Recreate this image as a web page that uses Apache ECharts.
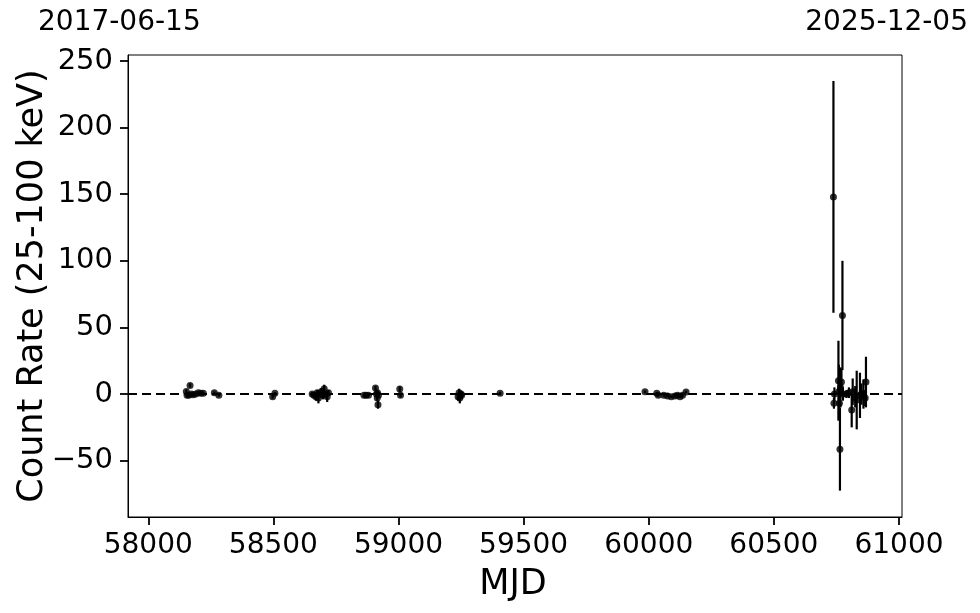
<!DOCTYPE html>
<html>
<head>
<meta charset="utf-8">
<script src="https://cdn.jsdelivr.net/npm/echarts@6/dist/echarts.min.js"></script>
<style>html,body{margin:0;padding:0;background:#fff}#c{width:980px;height:613px}</style>
</head>
<body>
<div id="c"></div>
<script>
const mjd = [58152,58155,58162,58167,58172,58180,58190,58200,58210,58220,58264,58282,
  58497,58506,
  58655,58662,58670,58675,58680,58686,58692,58698,58703,58708,58715,58720,
  58862,58870,58880,
  58908,58912,58915,58918,58916,58920,
  59005,59008,
  59238,59242,59245,59250,59252,
  59406,
  59985,60032,60038,60060,60075,60090,60105,60115,60125,60135,60149,
  60738,60742,60740,60758,60760,60762,60764,60766,60770,60774,60776,60790,60800,60811,60815,60825,60831,60844,60850,60858,60865,60868];
const rate = [2,-1,-1,6.5,0,-0.5,0,1,0.5,0.5,1,-1,
  -2,0.5,
  0,-1,-2,1,-3,0,2,-1,4,0,-2,1,
  -1,-1,-1,
  4.5,0,-3,-8,1,-1,
  3.7,-1,
  -2,1,-3,0,-1,
  0.5,
  1.7,0.5,-1,-1,-1.5,-2,-1.5,-1,-2,-1,1.5,
  148,0,-7,10,2,-7,-41.5,5,9,59,0,0,1,-12,1.7,-2,-4.5,-1,0,0,-3,9];
const err = [1.5,1.5,1,1.5,1,1,1,1,1,1,1,1,
  1.5,1,
  1.5,2,3,2,4,2,2.5,3,3,2,4,2,
  1,1,1,
  1.5,2,2,3,1.5,1.5,
  2,1.5,
  3,3,4,2,3,
  1,
  1,1,1,1,1,1,1,1,1,1,1,
  87,5,4,30,20,5,31,15,10,41,5,3,4,13,10,8,22,17,8,11,6,19];
const xTicks = [58000,58500,59000,59500,60000,60500,61000];
const yTicks = [-50,0,50,100,150,200,250];
const xRange = [57919,61012];
const yRange = [-92.3,254.5];
const dateLabels = ['2017-06-15','2025-12-05'];

const pts = mjd.map((m,i)=>[m,rate[i]]);
const bars = mjd.map((m,i)=>[m,rate[i]-err[i],rate[i]+err[i]]);
const FONT = 'DejaVu Sans';
const chart = echarts.init(document.getElementById('c'));
chart.setOption({
  animation:false,
  backgroundColor:'#fff',
  grid:{left:128,right:78,top:55,bottom:96,show:true,borderColor:'#000',borderWidth:1},
  xAxis:{type:'value',min:xRange[0],max:xRange[1],
    axisLine:{show:true,onZero:false,lineStyle:{color:'#000',width:1}},
    axisTick:{show:true,length:8,customValues:xTicks,lineStyle:{color:'#000',width:1.8}},
    axisLabel:{customValues:xTicks,color:'#000',fontFamily:FONT,fontSize:28,margin:15,
      formatter:v=>String(v)},
    splitLine:{show:false}},
  yAxis:{type:'value',min:yRange[0],max:yRange[1],
    axisLine:{show:true,onZero:false,lineStyle:{color:'#000',width:1}},
    axisTick:{show:true,length:8,customValues:yTicks,lineStyle:{color:'#000',width:1.8}},
    axisLabel:{customValues:yTicks,color:'#000',fontFamily:FONT,fontSize:29,margin:15,
      formatter:v=>v<0?'\u2212'+Math.abs(v):String(v)},
    splitLine:{show:false}},
  graphic:[
    {type:'text',left:38,top:9,style:{text:dateLabels[0],font:'28px "DejaVu Sans"',fill:'#000'}},
    {type:'text',right:12,top:9,style:{text:dateLabels[1],font:'28px "DejaVu Sans"',fill:'#000'}},
    {type:'text',x:513,y:585,style:{text:'MJD',font:'35px "DejaVu Sans"',fill:'#000',align:'center',verticalAlign:'middle'}},
    {type:'text',x:33,y:286,rotation:Math.PI/2,style:{text:'Count Rate (25-100 keV)',font:'35px "DejaVu Sans"',fill:'#000',align:'center',verticalAlign:'middle'}}
  ],
  series:[
    {type:'line',data:[[xRange[0],0],[xRange[1],0]],symbol:'none',silent:true,
      lineStyle:{color:'#000',width:2,type:[9,5]},z:1},
    {type:'custom',data:bars,z:2,clip:true,
      renderItem:(params,api)=>{
        const a=api.coord([api.value(0),api.value(1)]);
        const b=api.coord([api.value(0),api.value(2)]);
        return {type:'line',shape:{x1:a[0],y1:a[1],x2:b[0],y2:b[1]},style:{stroke:'#000',lineWidth:2.2}};
      }},
    {type:'scatter',data:pts,symbol:'circle',symbolSize:7,itemStyle:{color:'#000'},z:3}
  ]
});
</script>
</body>
</html>
